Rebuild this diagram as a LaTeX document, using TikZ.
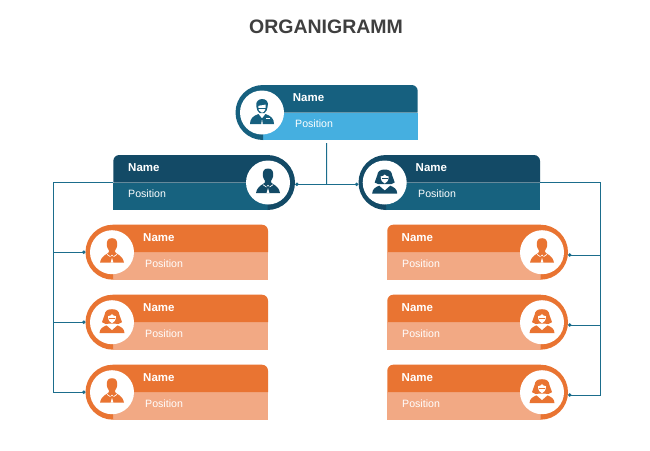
\documentclass[tikz,border=0pt]{standalone}
\usepackage{fontspec}
\setmainfont{Liberation Sans}
\usetikzlibrary{arrows.meta}
\definecolor{topdark}{HTML}{16607F}
\definecolor{toplight}{HTML}{45AFE0}
\definecolor{bluedark}{HTML}{134A66}
\definecolor{bluelight}{HTML}{17627F}
\definecolor{orangedark}{HTML}{E97432}
\definecolor{orangelight}{HTML}{F2A984}
\definecolor{linecol}{HTML}{1B6D8C}
\definecolor{titlecol}{HTML}{3F3F3F}
\tikzset{
  conn/.style={draw=linecol,line width=1pt},
  tipped/.style={conn,-{Circle[length=3.4pt,width=3.4pt,fill=linecol]}},
  bothtipped/.style={conn,{Circle[length=3.4pt,width=3.4pt,fill=linecol]}-{Circle[length=3.4pt,width=3.4pt,fill=linecol]}},
  namelabel/.style={anchor=base west,inner sep=0pt,text=white,font=\fontsize{11.5}{13}\selectfont\bfseries},
  poslabel/.style={anchor=base west,inner sep=0pt,text=white,font=\fontsize{10.6}{12}\selectfont},
  cardbox/.style={inner sep=0pt,minimum height=55pt},
  titlelabel/.style={text=titlecol,inner sep=0pt,font=\fontsize{19.5}{22}\selectfont\bfseries},
}
% icons, drawn about the centre of the white disc; #1 colour
\newcommand{\iconman}[1]{%
  \fill[#1] (0,-14) .. controls (-4,-14) and (-5.2,-11.5) .. (-5.2,-8)
    .. controls (-5.2,-4.5) and (-3.8,-3) .. (-3.2,-2) -- (-3.2,0)
    .. controls (-4,2) and (-10.5,2.5) .. (-12,10.5) -- (12,10.5)
    .. controls (10.5,2.5) and (4,2) .. (3.2,0) -- (3.2,-2)
    .. controls (3.8,-3) and (5.2,-4.5) .. (5.2,-8)
    .. controls (5.2,-11.5) and (4,-14) .. (0,-14) -- cycle;
  \draw[white,line width=0.7pt] (-5,2.2) -- (-1.5,4.5) (5,2.2) -- (1.5,4.5);
  \fill[white] (0,5.5) -- (-1.4,10.5) -- (1.4,10.5) -- cycle;
  \fill[white] (0,3.2) circle (0.9);
}
\newcommand{\iconwoman}[1]{%
  \fill[#1] (0,-13) .. controls (-5,-13) and (-7,-11) .. (-7.5,-7)
    .. controls (-8,-4) and (-10,-2) .. (-10,0)
    .. controls (-8,2) and (-5,2) .. (-3,1.5)
    -- (3,1.5) .. controls (5,2) and (8,2) .. (10,0)
    .. controls (10,-2) and (8,-4) .. (7.5,-7)
    .. controls (7,-11) and (5,-13) .. (0,-13) -- cycle;
  \fill[white] (-4,-6) .. controls (-2,-6) and (-1,-7) .. (0,-8)
    .. controls (1,-7) and (2,-6) .. (4,-6)
    .. controls (4,-2) and (2,0.5) .. (0,1)
    .. controls (-2,0.5) and (-4,-2) .. (-4,-6) -- cycle;
  \fill[#1] (-2.8,-4.4) rectangle (2.8,-3.4);
  \fill[#1] (-12.5,11) .. controls (-12.5,6.5) and (-9,4.5) .. (-5.5,3.2)
    -- (0,8) -- (5.5,3.2) .. controls (9,4.5) and (12.5,6.5) .. (12.5,11) -- cycle;
}
\newcommand{\iconboss}[1]{%
  \fill[#1] (-5.7,-6) .. controls (-6.8,-11) and (-3,-13.5) .. (0,-13.5)
    .. controls (4,-13.5) and (6.8,-11) .. (5.7,-6)
    .. controls (5.7,-3) and (4,-1) .. (2.5,0.5) -- (-2.5,0.5)
    .. controls (-4,-1) and (-5.7,-3) .. (-5.7,-6) -- cycle;
  \fill[white] (-3.7,-6.5) .. controls (-2,-7.3) and (2,-7.3) .. (3.7,-8)
    .. controls (4.2,-3.5) and (2.5,-0.3) .. (0,0.2)
    .. controls (-2.5,-0.3) and (-4.2,-3) .. (-3.7,-6.5) -- cycle;
  \draw[#1,line width=0.6pt] (-3.8,-4.5) -- (3.8,-4.5);
  \fill[#1] (-12,11.5) .. controls (-12,6) and (-9,3.5) .. (-3.5,1.5)
    -- (0,6) -- (-0.8,11.5) -- cycle;
  \fill[#1] (12,11.5) .. controls (12,6) and (9,3.5) .. (3.5,1.5)
    -- (0,6) -- (0.8,11.5) -- cycle;
  \fill[white] (3.5,5.8) rectangle (7.5,6.8);
}
% disc on the left: name, ring centre x, top y, right x, disc x, dark, light, icon, name x, position x
\newcommand{\cardleft}[9]{%
  \pgfmathsetmacro{\Ts}{#3+27.5}\pgfmathsetmacro{\Tb}{#3+55}
  \pgfmathsetmacro{\Tr}{#2-27.5}\pgfmathsetmacro{\Tm}{(\Tr+#4)/2}\pgfmathsetmacro{\Tw}{#4-\Tr}
  \fill[#7] (#2,\Ts) rectangle (#4,\Tb);
  \fill[#6] (#4,\Ts) -- (#4,#3+6) arc[start angle=0,end angle=-90,radius=6] -- (#2,#3)
    arc[start angle=270,end angle=90,radius=27.5] -- (#2,\Ts) -- cycle;
  \fill[white] (#5,\Ts) circle (22);
  \begin{scope}[shift={(#5,\Ts)}]#8{#6}\end{scope}
  \node[cardbox,minimum width=\Tw pt] (#1) at (\Tm,\Ts) {};
  \coordinate (#1-port) at (\Tr,\Ts);
  \cardtext{#1}{#3}#9%
}
% disc on the right
\newcommand{\cardright}[9]{%
  \pgfmathsetmacro{\Ts}{#3+27.5}\pgfmathsetmacro{\Tb}{#3+55}
  \pgfmathsetmacro{\Tr}{#2+27.5}\pgfmathsetmacro{\Tm}{(\Tr+#4)/2}\pgfmathsetmacro{\Tw}{\Tr-#4}
  \fill[#7] (#4,\Ts) rectangle (#2,\Tb);
  \fill[#6] (#4,\Ts) -- (#4,#3+6) arc[start angle=180,end angle=270,radius=6] -- (#2,#3)
    arc[start angle=270,end angle=450,radius=27.5] -- (#2,\Ts) -- cycle;
  \fill[white] (#5,\Ts) circle (22);
  \begin{scope}[shift={(#5,\Ts)}]#8{#6}\end{scope}
  \node[cardbox,minimum width=\Tw pt] (#1) at (\Tm,\Ts) {};
  \coordinate (#1-port) at (\Tr,#3+30.3);
  \cardtext{#1}{#3}#9%
}
\newcommand{\cardtext}[4]{%
  \node[namelabel] (#1-name) at (#3,#2+16.3) {Name};
  \node[poslabel] (#1-pos) at (#4,#2+42.5) {Position};
}
\begin{document}
\begin{tikzpicture}[x=1pt,y=-1pt]
\useasboundingbox (0,0) rectangle (650,450);
\fill[white] (0,0) rectangle (650,450);
\node[titlelabel] (title) at (326,27) {ORGANIGRAMM};

\cardleft{top}{263}{85}{417.7}{262}{topdark}{toplight}{\iconboss}{{292.7}{295}}
\cardright{lead}{267.5}{155}{113.3}{268}{bluedark}{bluelight}{\iconman}{{128}{128}}
\cardleft{read}{386}{155}{540}{384.7}{bluedark}{bluelight}{\iconwoman}{{415.5}{418}}

\cardleft{la}{113}{224.7}{268}{112}{orangedark}{orangelight}{\iconman}{{143}{145}}
\cardleft{lb}{113}{294.7}{268}{112}{orangedark}{orangelight}{\iconwoman}{{143}{145}}
\cardleft{lc}{113}{364.7}{268}{112}{orangedark}{orangelight}{\iconman}{{143}{145}}

\cardright{ra}{540.5}{224.7}{387.3}{542}{orangedark}{orangelight}{\iconman}{{401.5}{402}}
\cardright{rb}{540.5}{294.7}{387.3}{542}{orangedark}{orangelight}{\iconwoman}{{401.5}{402}}
\cardright{rc}{540.5}{364.7}{387.3}{542}{orangedark}{orangelight}{\iconwoman}{{401.5}{402}}

\coordinate (hub) at (326.6,184.3);
\coordinate (lbus) at (53.3,0);
\coordinate (rbus) at (600.6,0);

\draw[conn,shorten <=3pt] (top.south) -- (hub);
\draw[bothtipped] (lead.east |- hub) -- (read.west |- hub);

\draw[conn] (lead.west) -| (lbus |- lc-port);
\draw[tipped] (lbus |- la-port) -- (la-port);
\draw[tipped] (lbus |- lb-port) -- (lb-port);
\draw[tipped] (lbus |- lc-port) -- (lc-port);

\draw[conn] (read.east) -| (rbus |- rc-port);
\draw[tipped] (rbus |- ra-port) -- (ra-port);
\draw[tipped] (rbus |- rb-port) -- (rb-port);
\draw[tipped] (rbus |- rc-port) -- (rc-port);
\end{tikzpicture}
\end{document}
